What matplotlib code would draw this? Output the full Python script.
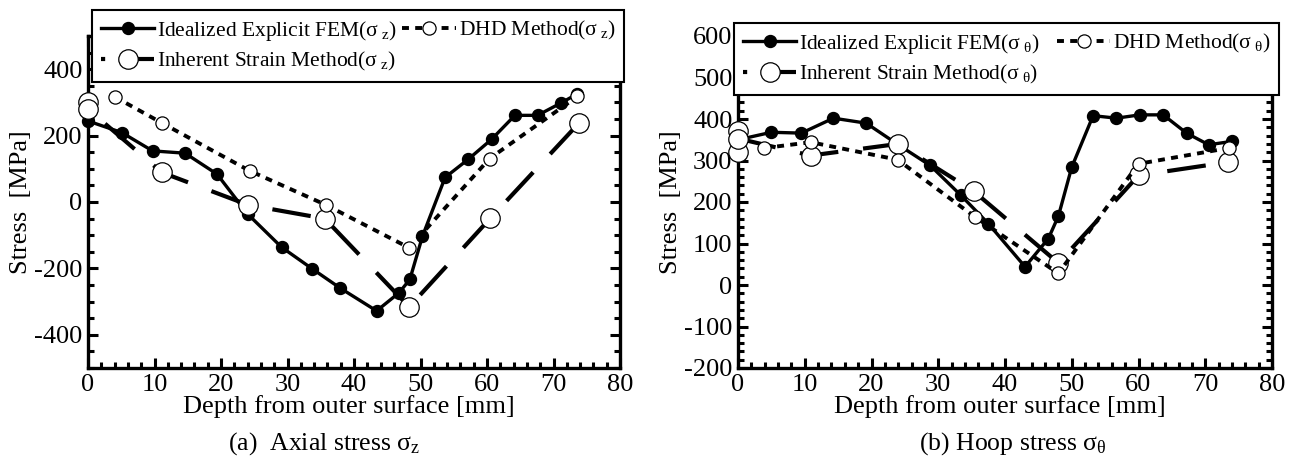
import matplotlib
matplotlib.use("Agg")
import matplotlib.pyplot as plt
from matplotlib.ticker import MultipleLocator

plt.rcParams.update({
    'font.family': ['Liberation Serif', 'DejaVu Serif'],
    'mathtext.fontset': 'custom',
    'mathtext.rm': 'Liberation Serif',
    'mathtext.it': 'Liberation Serif:italic',
    'mathtext.bf': 'Liberation Serif:bold',
    'axes.unicode_minus': False,
    'lines.scale_dashes': False,
})

# ---------------- data: (a) axial stress ----------------
fem_a_x = [0, 5.1, 9.7, 14.6, 19.4, 24.0, 29.1, 33.7, 37.9, 43.4, 46.8, 48.4,
           50.3, 53.7, 57.2, 60.7, 64.2, 67.6, 71.2, 73.6]
fem_a_y = [244, 209, 154, 147, 84, -36, -136, -201, -259, -328, -273, -233,
           -103, 74, 129, 189, 261, 261, 299, 326]
dhd_a_x = [4.0, 11.2, 24.3, 35.8, 48.3, 60.4, 73.6]
dhd_a_y = [317, 237, 94, -9, -138, 131, 318]
is_a_x = [0, 0, 11.1, 24.1, 35.6, 48.3, 60.5, 73.8]
is_a_y = [300, 280, 89, -9, -50, -316, -49, 237]

# ---------------- data: (b) hoop stress ----------------
fem_b_x = [0, 5.0, 9.5, 14.3, 19.2, 24.0, 28.8, 33.4, 37.5, 43.0, 46.5, 48.0,
           50.0, 53.2, 56.7, 60.2, 63.7, 67.2, 70.5, 74.0]
fem_b_y = [350, 368, 366, 402, 390, 338, 288, 216, 148, 44, 112, 166,
           284, 408, 402, 410, 410, 366, 338, 346]
dhd_b_x = [3.9, 10.9, 23.9, 35.5, 48.0, 60.0, 73.5]
dhd_b_y = [330, 344, 302, 164, 28, 292, 330]
is_b_x = [0, 0, 0, 10.9, 24.0, 35.3, 48.0, 60.0, 73.4]
is_b_y = [320, 372, 353, 312, 340, 226, 53, 264, 296]

labels_a = ["Idealized Explicit FEM(σ$_{\\ \\mathrm{z}}$)",
            "Inherent Strain Method(σ$_{\\ \\mathrm{z}}$)",
            "DHD Method(σ$_{\\ \\mathrm{z}}$)"]
labels_b = ["Idealized Explicit FEM(σ$_{\\ \\mathrm{θ}}$)",
            "Inherent Strain Method(σ$_{\\ \\mathrm{θ}}$)",
            "DHD Method(σ$_{\\ \\mathrm{θ}}$)"]
captions = ["(a)  Axial stress σ$_{\\mathrm{z}}$", "(b) Hoop stress σ$_{\\mathrm{θ}}$"]

W, H = 1299, 470
fig = plt.figure(figsize=(W / 100, H / 100), dpi=100)
axL = fig.add_axes([88 / W, 102 / H, 532 / W, 332 / H])
axR = fig.add_axes([738 / W, 102 / H, 534 / W, 332 / H])


def style(ax, ylim, ymaj, ymin):
    ax.set_xlim(0, 80)
    ax.set_ylim(*ylim)
    ax.xaxis.set_major_locator(MultipleLocator(10))
    ax.xaxis.set_minor_locator(MultipleLocator(2))
    ax.yaxis.set_major_locator(MultipleLocator(ymaj))
    ax.yaxis.set_minor_locator(MultipleLocator(ymin))
    ax.tick_params(which='both', direction='in', top=True, right=True,
                   width=2.2, labelsize=19, pad=4)
    ax.tick_params(which='major', length=7)
    ax.tick_params(which='minor', length=4)
    for s in ax.spines.values():
        s.set_linewidth(2.4)
    ax.set_xlabel("Depth from outer surface [mm]", fontsize=19)
    ax.set_ylabel("Stress  [MPa]", fontsize=19)
    ax.yaxis.set_label_coords(-0.105, 0.5)
    ax.xaxis.set_label_coords(0.49, -0.08)


def draw(ax, fx, fy, dx, dy, ix, iy):
    h1, = ax.plot(fx, fy, '-', color='k', lw=2.4, marker='o', ms=8.6,
                  mfc='k', mec='k', zorder=3, clip_on=False)
    h3, = ax.plot(ix, iy, color='k', lw=3.0, ls=(25, (28, 18)), marker='o',
                  ms=14, mfc='white', mec='k', mew=0.9, zorder=4, clip_on=False)
    h2, = ax.plot(dx, dy, color='k', lw=2.8, ls=(0, (5, 4.5)), marker='o',
                  ms=9.5, mfc='white', mec='k', mew=0.9, zorder=5, clip_on=False)
    return [h1, h3, h2]


style(axL, (-500, 500), 200, 50)
style(axR, (-200, 600), 100, 20)
hL = draw(axL, fem_a_x, fem_a_y, dhd_a_x, dhd_a_y, is_a_x, is_a_y)
hR = draw(axR, fem_b_x, fem_b_y, dhd_b_x, dhd_b_y, is_b_x, is_b_y)


def legend(handles, labels, x0, x1, ytop):
    leg = fig.legend(handles, labels, ncol=2, loc='upper left',
                     bbox_to_anchor=(x0 / W, 1 - ytop / H, (x1 - x0) / W, 0),
                     mode='expand', fontsize=15.5, handlelength=2.5,
                     handletextpad=0.12, columnspacing=0.3, borderpad=0.4,
                     labelspacing=0.35, fancybox=False, edgecolor='k',
                     framealpha=1, borderaxespad=0, numpoints=1)
    leg.get_frame().set_linewidth(1.5)
    return leg


legend(hL, labels_a, 92, 624, 10)
legend(hR, labels_b, 734, 1279, 23)

fig.text(324 / W, 1 - 444 / H, captions[0], ha='center', va='center', fontsize=18.5)
fig.text(1013 / W, 1 - 444 / H, captions[1], ha='center', va='center', fontsize=18.5)

fig.savefig("out.png", dpi=100)
